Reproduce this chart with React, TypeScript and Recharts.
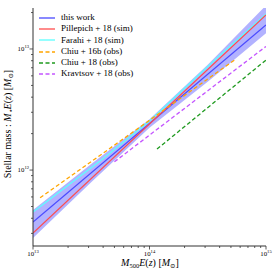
import React from 'react';
import { ComposedChart, Line, Area, XAxis, YAxis } from 'recharts';

// ---- data (log-log) ----
const thisWorkMass = [1e13, 1e15];
const thisWorkStar = [3.72e11, 1.58e13];

const bandMass = [1e13, 3.16e13, 1e14, 3.16e14, 1e15];
const bandLow = [2.75e11, 7.94e11, 2.24e12, 5.37e12, 1.35e13];
const bandHigh = [4.68e11, 1.12e12, 2.63e12, 7.41e12, 2.29e13];

const pillepichMass = [1e13, 1e15];
const pillepichStar = [3.02e11, 1.91e13];

// Farahi relation is slightly curved
const farahiMass = [1e13, 3.76e13, 1e14, 3.79e14, 1e15];
const farahiStar = [4.5e11, 1.19e12, 2.54e12, 8.43e12, 1.95e13];

const chiu16Mass = [1.15e13, 5.52e14];
const chiu16Star = [5.9e11, 8.26e12];

const chiu18Mass = [1.16e14, 1e15];
const chiu18Star = [1.49e12, 8.1e12];

const kravtsovMass = [5e13, 1e15];
const kravtsovStar = [1.17e12, 1.05e13];

// ---- axes ----
const xTicks = [1e13, 2e13, 3e13, 4e13, 5e13, 6e13, 7e13, 8e13, 9e13, 1e14, 2e14, 3e14, 4e14, 5e14, 6e14, 7e14, 8e14, 9e14, 1e15];
const yTicks = [3e11, 4e11, 5e11, 6e11, 7e11, 8e11, 9e11, 1e12, 2e12, 3e12, 4e12, 5e12, 6e12, 7e12, 8e12, 9e12, 1e13, 2e13];
const yTicksRight = [3e11, 4e11, 5e11, 6e11, 7e11, 8e11, 9e11, 1e12, 2e12, 3e12, 4e12, 5e12, 6e12, 7e12, 8e12, 9e12, 1e13];
const xDomain = [1e13, 1e15];
const yDomain = [2.36e11, 2.18e13];
const yDomainRight = [2.145e11, 1.98e13];

const legendItems = [
  { label: 'this work', color: '#4a4aff', dash: '' },
  { label: 'Pillepich + 18 (sim)', color: '#ff4d4d', dash: '' },
  { label: 'Farahi + 18 (sim)', color: '#5cffff', dash: '' },
  { label: 'Chiu + 16b (obs)', color: '#ffa500', dash: '4 2.5' },
  { label: 'Chiu + 18 (obs)', color: '#1f9a1f', dash: '4 2.5' },
  { label: 'Kravtsov + 18 (obs)', color: '#c455ff', dash: '4 2.5' },
];

const toPoints = (xs: number[], ys: number[]) => xs.map((m, i) => ({ m, s: ys[i] }));
const bandData = bandMass.map((m, i) => ({ m, r: [bandLow[i], bandHigh[i]] }));

const serif = '"Liberation Serif", "DejaVu Serif", serif';
const axisColor = '#333';

const isMajor = (v: number) => Math.abs(Math.log10(v) - Math.round(Math.log10(v))) < 1e-6;

const LeftTick = (props: any) => {
  const { x, y, payload } = props;
  const v = payload.value;
  const major = isMajor(v);
  const len = major ? 3.5 : 2;
  return (
    <g>
      <line x1={x - len} y1={y} x2={x} y2={y} stroke={axisColor} strokeWidth={0.8} />
      {major && (
        <text x={x - 4} y={y + 2.2} textAnchor="end" fontFamily={serif} fontSize={6.8} fill="#000">
          10<tspan dy={-3} fontSize={4.6}>{Math.round(Math.log10(v))}</tspan>
        </text>
      )}
    </g>
  );
};

const RightTick = (props: any) => {
  const { x, y, payload } = props;
  const len = isMajor(payload.value) ? 3.5 : 2;
  return <line x1={x} y1={y} x2={x + len} y2={y} stroke={axisColor} strokeWidth={0.8} />;
};

const BottomTick = (props: any) => {
  const { x, y, payload } = props;
  const v = payload.value;
  const major = isMajor(v);
  const len = major ? 3.5 : 2;
  return (
    <g>
      <line x1={x} y1={y} x2={x} y2={y + len} stroke={axisColor} strokeWidth={0.8} />
      {major && (
        <text x={x} y={y + 10} textAnchor="middle" fontFamily={serif} fontSize={6.8} fill="#000">
          10<tspan dy={-3} fontSize={4.6}>{Math.round(Math.log10(v))}</tspan>
        </text>
      )}
    </g>
  );
};

const XLabel = () => (
  <text x={150} y={266} textAnchor="middle" fontFamily={serif} fontSize={10} fill="#000">
    <tspan fontStyle="italic">M</tspan>
    <tspan fontSize={6.5} dy={2}>500</tspan>
    <tspan fontStyle="italic" dy={-2}>E</tspan>(<tspan fontStyle="italic">z</tspan>) [<tspan fontStyle="italic">M</tspan>
    <tspan fontSize={6.5} dy={2}>⊙</tspan>
    <tspan dy={-2}>]</tspan>
  </text>
);

const YLabel = () => (
  <text x={0} y={0} transform="translate(10.5,124) rotate(-90)" textAnchor="middle" fontFamily={serif} fontSize={10} fill="#000">
    Stellar mass : <tspan fontStyle="italic">M</tspan>
    <tspan fontSize={6.5} dy={2}>⋆</tspan>
    <tspan fontStyle="italic" dy={-2}>E</tspan>(<tspan fontStyle="italic">z</tspan>) [<tspan fontStyle="italic">M</tspan>
    <tspan fontSize={6.5} dy={2}>⊙</tspan>
    <tspan dy={-2}>]</tspan>
  </text>
);

const lineProps = {
  xAxisId: 'x',
  yAxisId: 'y',
  dataKey: 's',
  type: 'linear' as const,
  dot: false,
  activeDot: false,
  isAnimationActive: false,
  strokeWidth: 1.3,
};

export default function App() {
  return (
    <div style={{ position: 'absolute', left: 0, top: 0, width: 274, height: 274, background: '#fff' }}>
      <ComposedChart width={274} height={274} margin={{ top: 8, right: 8, bottom: 8, left: 8 }}>
        <XAxis
          xAxisId="x"
          dataKey="m"
          type="number"
          scale="log"
          domain={xDomain}
          ticks={xTicks}
          interval={0}
          allowDataOverflow
          height={20}
          tickSize={0}
          tickMargin={0}
          tickLine={false}
          tick={<BottomTick />}
          axisLine={{ stroke: axisColor, strokeWidth: 1 }}
          label={{ content: () => <XLabel /> }}
        />
        <XAxis xAxisId="top" orientation="top" type="number" domain={[0, 1]} height={0} tick={false} tickLine={false} axisLine={{ stroke: axisColor, strokeWidth: 1 }} />
        <YAxis
          yAxisId="y"
          type="number"
          scale="log"
          domain={yDomain}
          ticks={yTicks}
          interval={0}
          allowDataOverflow
          width={25}
          tickSize={0}
          tickMargin={0}
          tickLine={false}
          tick={<LeftTick />}
          axisLine={{ stroke: axisColor, strokeWidth: 1 }}
          label={{ content: () => <YLabel /> }}
        />
        <YAxis
          yAxisId="right"
          orientation="right"
          type="number"
          scale="log"
          domain={yDomainRight}
          ticks={yTicksRight}
          interval={0}
          allowDataOverflow
          width={0}
          tickSize={0}
          tickMargin={0}
          tickLine={false}
          tick={<RightTick />}
          axisLine={{ stroke: axisColor, strokeWidth: 1 }}
        />
        <Area
          xAxisId="x"
          yAxisId="y"
          data={bandData}
          dataKey="r"
          type="linear"
          stroke="none"
          fill="#0000ff"
          fillOpacity={0.3}
          isAnimationActive={false}
          activeDot={false}
        />
        <Line {...lineProps} data={toPoints(thisWorkMass, thisWorkStar)} stroke="#4a4aff" />
        <Line {...lineProps} data={toPoints(farahiMass, farahiStar)} stroke="#5cffff" />
        <Line {...lineProps} data={toPoints(pillepichMass, pillepichStar)} stroke="#ff4d4d" />
        <Line {...lineProps} data={toPoints(chiu16Mass, chiu16Star)} stroke="#ffa500" strokeDasharray="4 2.5" />
        <Line {...lineProps} data={toPoints(chiu18Mass, chiu18Star)} stroke="#1f9a1f" strokeDasharray="4 2.5" />
        <Line {...lineProps} data={toPoints(kravtsovMass, kravtsovStar)} stroke="#c455ff" strokeDasharray="4 2.5" />
      </ComposedChart>
      <div style={{ position: 'absolute', left: 38, top: 12, fontFamily: serif, fontSize: 9, lineHeight: '11.3px', color: '#000' }}>
        {legendItems.map((it) => (
          <div key={it.label} style={{ display: 'flex', alignItems: 'center', height: 11.3, whiteSpace: 'nowrap' }}>
            <svg width={17} height={4} style={{ marginRight: 6 }}>
              <line x1={1} y1={2} x2={17} y2={2} stroke={it.color} strokeWidth={1.3} strokeDasharray={it.dash || undefined} />
            </svg>
            <span>{it.label}</span>
          </div>
        ))}
      </div>
    </div>
  );
}
